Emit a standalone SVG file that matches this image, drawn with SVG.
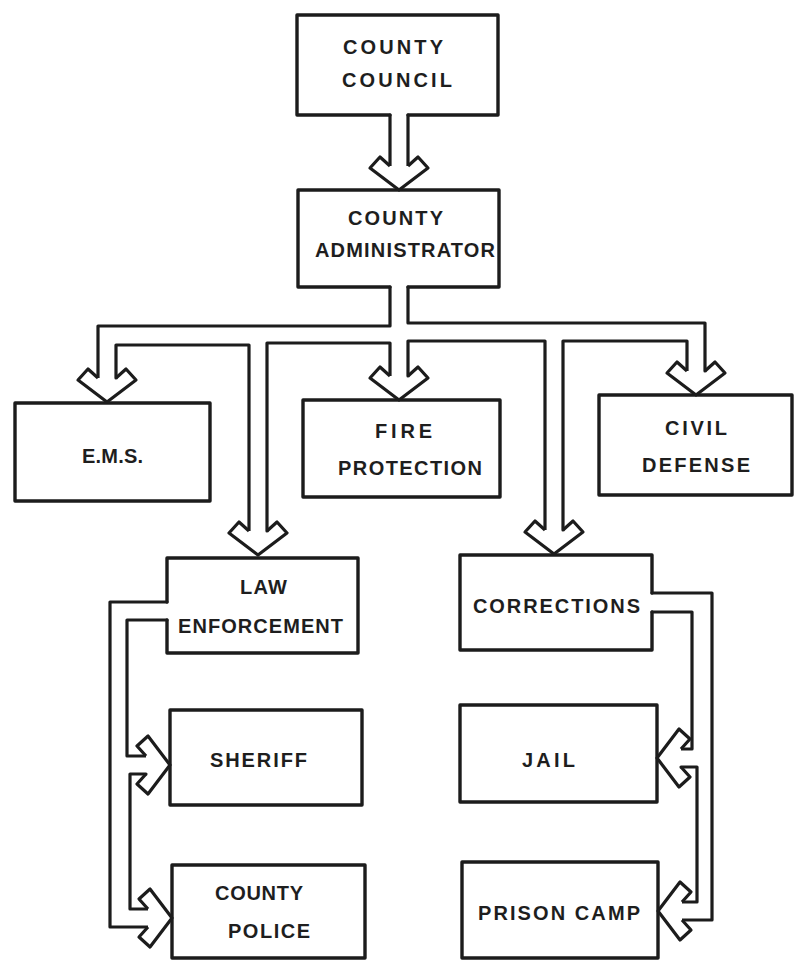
<svg xmlns="http://www.w3.org/2000/svg" width="795" height="960" viewBox="0 0 795 960">
<defs>
<style>
.b{fill:none;stroke:#1c1c1c;stroke-width:3.4;stroke-linejoin:round;stroke-linecap:round}
.c{fill:none;stroke:#1c1c1c;stroke-width:3.2;stroke-linejoin:round;stroke-linecap:round}
.t{font-family:"Liberation Sans",Arial,sans-serif;font-weight:bold;font-size:20px;fill:#1e1e1e}
</style>
<path id="ah" d="M-9,-24 L-19,-33 L-29,-22 L0,0 L29,-22 L19,-33 L9,-24" fill="#fff" stroke="#1c1c1c" stroke-width="3.2" stroke-linejoin="round"/>
</defs>
<rect width="795" height="960" fill="#fff"/>

<g id="county-council">
<path class="b" d="M390,115 H297 V15 H498 V115 H408"/>
<text class="t" x="343" y="54" textLength="100" lengthAdjust="spacing">COUNTY</text>
<text class="t" x="342" y="87" textLength="110" lengthAdjust="spacing">COUNCIL</text>
</g>
<g id="county-administrator">
<path class="b" d="M390,287 H298 V190 H499 V287 H408"/>
<text class="t" x="348" y="225" textLength="95" lengthAdjust="spacing">COUNTY</text>
<text class="t" x="315" y="257" textLength="180" lengthAdjust="spacing">ADMINISTRATOR</text>
</g>
<g id="ems">
<rect class="b" x="15" y="403" width="195" height="98"/>
<text class="t" x="82" y="463" textLength="61" lengthAdjust="spacing">E.M.S.</text>
</g>
<g id="fire-protection">
<rect class="b" x="303" y="400" width="197" height="97"/>
<text class="t" x="375" y="438" textLength="57" lengthAdjust="spacing">FIRE</text>
<text class="t" x="338" y="475" textLength="144" lengthAdjust="spacing">PROTECTION</text>
</g>
<g id="civil-defense">
<rect class="b" x="599" y="395" width="193" height="100"/>
<text class="t" x="665" y="435" textLength="62" lengthAdjust="spacing">CIVIL</text>
<text class="t" x="642" y="472" textLength="108" lengthAdjust="spacing">DEFENSE</text>
</g>
<g id="law-enforcement">
<path class="b" d="M167,602 V558 H358 V653 H167 V620"/>
<text class="t" x="240" y="594" textLength="47" lengthAdjust="spacing">LAW</text>
<text class="t" x="178" y="633" textLength="165" lengthAdjust="spacing">ENFORCEMENT</text>
</g>
<g id="corrections">
<path class="b" d="M652,593 V555 H460 V650 H652 V612"/>
<text class="t" x="473" y="613" textLength="167" lengthAdjust="spacing">CORRECTIONS</text>
</g>
<g id="sheriff">
<rect class="b" x="170" y="710" width="192" height="95"/>
<text class="t" x="210" y="767" textLength="97" lengthAdjust="spacing">SHERIFF</text>
</g>
<g id="county-police">
<rect class="b" x="172" y="865" width="193" height="93"/>
<text class="t" x="215" y="900" textLength="88" lengthAdjust="spacing">COUNTY</text>
<text class="t" x="228" y="938" textLength="82" lengthAdjust="spacing">POLICE</text>
</g>
<g id="jail">
<rect class="b" x="460" y="705" width="197" height="97"/>
<text class="t" x="522" y="767" textLength="53" lengthAdjust="spacing">JAIL</text>
</g>
<g id="prison-camp">
<rect class="b" x="462" y="862" width="196" height="96"/>
<text class="t" x="478" y="920" textLength="162" lengthAdjust="spacing">PRISON CAMP</text>
</g>

<g id="connectors">
<path class="c" d="M390,115 V166 M408,115 V166"/>
<use href="#ah" transform="translate(399,190)"/>
<path class="c" d="M390,287 V326 H98 V378"/>
<use href="#ah" transform="translate(107,402)"/>
<path class="c" d="M116,378 V345 H249 V531"/>
<use href="#ah" transform="translate(258,555)"/>
<path class="c" d="M267,531 V343 H390 V376"/>
<use href="#ah" transform="translate(399,400)"/>
<path class="c" d="M408,376 V341 H545 V530"/>
<use href="#ah" transform="translate(554,554)"/>
<path class="c" d="M563,530 V341 H687 V371"/>
<use href="#ah" transform="translate(696,395)"/>
<path class="c" d="M705,371 V323 H408 V287"/>

<path class="c" d="M167,602 H110 V927 H148"/>
<path class="c" d="M167,620 H127 V756 H146"/>
<use href="#ah" transform="translate(170,765) rotate(-90)"/>
<path class="c" d="M146,774 H130 V909 H148"/>
<use href="#ah" transform="translate(172,918) rotate(-90)"/>

<path class="c" d="M652,593 H712 V920 H682"/>
<path class="c" d="M652,612 H692 V749 H681"/>
<use href="#ah" transform="translate(657,758) rotate(90)"/>
<path class="c" d="M681,767 H697 V902 H682"/>
<use href="#ah" transform="translate(658,911) rotate(90)"/>
</g>
</svg>
